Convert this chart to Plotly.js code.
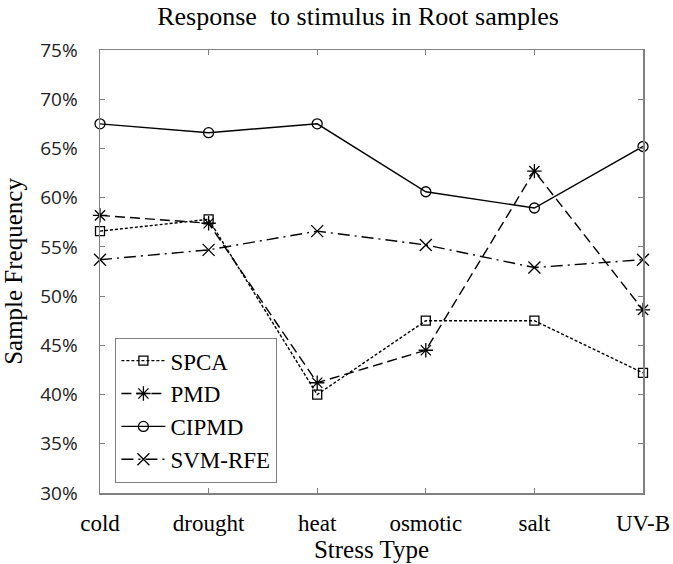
<!DOCTYPE html>
<html>
<head>
<meta charset="utf-8">
<script src="https://cdn.plot.ly/plotly-3.0.1.min.js"></script>
<style>html,body{margin:0;padding:0;background:#fff;}</style>
</head>
<body>
<div id="chart" style="width:673px;height:564px;"></div>
<script>
const categories = ["cold", "drought", "heat", "osmotic", "salt", "UV-B"];
const spca   = [56.6, 57.8, 40.0, 47.5, 47.5, 42.2];
const pmd    = [58.2, 57.4, 41.2, 44.5, 62.7, 48.6];
const cipmd  = [67.5, 66.6, 67.5, 60.6, 58.95, 65.2];
const svmrfe = [53.7, 54.7, 56.6, 55.2, 52.9, 53.7];
const yTicks = [30, 35, 40, 45, 50, 55, 60, 65, 70, 75];
const yTickText = yTicks.map(v => v + "%");

const serif = "Liberation Serif, Times New Roman, serif";
const sans = "Open Sans, Noto Sans, sans-serif";

function tr(name, y, dash, symbol, size) {
  return {
    x: categories, y: y, name: name, type: "scatter", mode: "lines+markers",
    legendgroup: name, cliponaxis: false,
    line: {color: "#000", width: 1.4, dash: dash},
    marker: {symbol: symbol, size: size, color: "#000", line: {color: "#000", width: 1.3}}
  };
}

const data = [
  tr("SPCA", spca, "3px,2px", "square-open", 9),
  tr("PMD", pmd, "10px,5px", "asterisk-open", 12),
  tr("CIPMD", cipmd, "solid", "circle-open", 10),
  tr("SVM-RFE", svmrfe, "12px,5px,2px,5px", "x-thin-open", 12)
];

const layout = {
  width: 673, height: 564,
  margin: {l: 100, r: 30, t: 50, b: 71},
  paper_bgcolor: "#fff", plot_bgcolor: "#fff",
  showlegend: true,
  title: {text: "Response  to stimulus in Root samples", font: {family: serif, size: 26, color: "#000"},
          x: 0.532, xref: "container", xanchor: "center", y: 0.972, yref: "container", yanchor: "middle"},
  xaxis: {
    type: "category", range: [0, 5], showgrid: false, zeroline: false,
    showline: true, linecolor: "#808080", linewidth: 1.5, mirror: "ticks",
    ticks: "inside", ticklen: 5, tickcolor: "#808080",
    tickfont: {family: serif, size: 23, color: "#000"}, ticklabelstandoff: 9,
    title: {text: "Stress Type", font: {family: serif, size: 25, color: "#000"}, standoff: 3}
  },
  yaxis: {
    range: [30, 75], tickvals: yTicks, ticktext: yTickText, showgrid: false, zeroline: false,
    showline: true, linecolor: "#808080", linewidth: 1.5, mirror: "ticks",
    ticks: "inside", ticklen: 5, tickcolor: "#808080",
    tickfont: {family: sans, size: 19, color: "#222"}, ticklabelstandoff: 17,
    title: {text: "Sample Frequency", font: {family: serif, size: 25, color: "#000"}, standoff: 10}
  },
  legend: {
    x: 0.028, y: 0.35, xanchor: "left", yanchor: "top",
    bgcolor: "#fff", bordercolor: "#808080", borderwidth: 1.2,
    font: {family: serif, size: 23, color: "#000"},
    tracegroupgap: 13, traceorder: "normal", itemwidth: 44
  }
};

Plotly.newPlot("chart", data, layout, {displayModeBar: false, staticPlot: true});
</script>
</body>
</html>
